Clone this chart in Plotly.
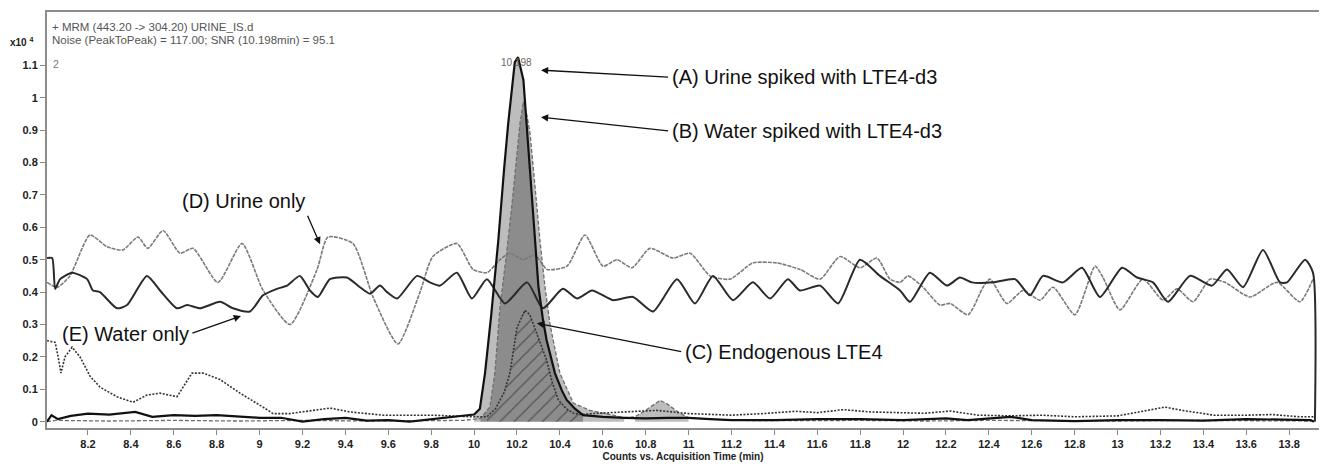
import plotly.graph_objects as go

# ---------------- data (counts x10^4 vs acquisition time, min) ----------------
a_time = [8.009, 8.03, 8.06, 8.12, 8.2, 8.3, 8.42, 8.5, 8.6, 8.7, 8.8, 8.9, 9.0, 9.1, 9.2, 9.3, 9.4, 9.5,
          9.6, 9.7, 9.8, 9.9, 9.97, 10.0, 10.027, 10.051, 10.08, 10.113, 10.14, 10.159, 10.19, 10.205,
          10.23, 10.245, 10.261, 10.28, 10.3, 10.32, 10.338, 10.377, 10.41, 10.432, 10.47, 10.508, 10.6,
          10.7, 10.8, 10.9, 11.0, 11.1, 11.2, 11.4, 11.6, 11.8, 12.0, 12.2, 12.3, 12.5, 12.6, 12.8, 13.0,
          13.2, 13.4, 13.6, 13.8, 13.9, 13.915]
a_val = [0.0, 0.02, 0.008, 0.018, 0.025, 0.022, 0.03, 0.015, 0.02, 0.018, 0.02, 0.015, 0.012, 0.012, 0.0,
         0.008, 0.012, 0.003, 0.005, 0.0, 0.008, 0.015, 0.02, 0.022, 0.04, 0.15, 0.33, 0.56, 0.78, 0.92,
         1.11, 1.125, 1.055, 0.92, 0.767, 0.58, 0.417, 0.32, 0.252, 0.15, 0.095, 0.067, 0.04, 0.02, 0.015,
         0.012, 0.01, 0.012, 0.012, 0.008, 0.005, 0.005, 0.008, 0.008, 0.005, 0.01, 0.005, 0.015, 0.005,
         0.002, 0.005, 0.005, 0.003, 0.008, 0.005, 0.005, 0.0]

b_time = [8.009, 8.05, 8.3, 8.6, 8.9, 9.2, 9.5, 9.8, 9.95, 10.03, 10.074, 10.097, 10.121, 10.148, 10.175,
          10.214, 10.23, 10.245, 10.261, 10.285, 10.307, 10.33, 10.354, 10.4, 10.463, 10.54, 10.6, 10.65,
          10.7, 10.75, 10.8, 10.867, 10.9, 10.95, 11.0, 11.2, 11.5, 11.8, 12.1, 12.4, 12.7, 13.0, 13.3,
          13.6, 13.915]
b_val = [0.0, 0.004, 0.002, 0.004, 0.002, 0.004, 0.002, 0.003, 0.004, 0.01, 0.046, 0.15, 0.355, 0.5, 0.66,
         0.92, 0.988, 0.95, 0.89, 0.72, 0.56, 0.42, 0.30, 0.15, 0.057, 0.035, 0.028, 0.02, 0.012, 0.015,
         0.035, 0.066, 0.055, 0.03, 0.012, 0.004, 0.003, 0.004, 0.002, 0.004, 0.003, 0.002, 0.004, 0.003,
         0.002]

c_time = [8.009, 8.047, 8.061, 8.074, 8.093, 8.126, 8.163, 8.21, 8.256, 8.335, 8.41, 8.475, 8.536, 8.615,
          8.685, 8.737, 8.816, 8.909, 9.016, 9.063, 9.142, 9.268, 9.328, 9.422, 9.576, 9.808, 9.95, 10.0,
          10.06, 10.1, 10.14, 10.167, 10.2, 10.237, 10.26, 10.292, 10.338, 10.365, 10.393, 10.43, 10.461,
          10.5, 10.55, 10.7, 10.85, 11.0, 11.2, 11.35, 11.5, 11.6, 11.72, 11.85, 12.0, 12.1, 12.22, 12.35,
          12.5, 12.65, 12.8, 13.0, 13.1, 13.22, 13.3, 13.45, 13.6, 13.72, 13.85, 13.915]
c_val = [0.25, 0.245, 0.2, 0.15, 0.2, 0.23, 0.2, 0.14, 0.107, 0.077, 0.06, 0.082, 0.088, 0.077, 0.15, 0.15,
         0.13, 0.088, 0.045, 0.025, 0.025, 0.036, 0.042, 0.03, 0.02, 0.02, 0.015, 0.015, 0.015, 0.04, 0.09,
         0.15, 0.29, 0.344, 0.33, 0.274, 0.19, 0.12, 0.067, 0.04, 0.027, 0.022, 0.025, 0.03, 0.035, 0.025,
         0.02, 0.025, 0.032, 0.028, 0.037, 0.03, 0.028, 0.026, 0.033, 0.02, 0.018, 0.02, 0.015, 0.018,
         0.03, 0.045, 0.035, 0.02, 0.02, 0.022, 0.015, 0.015]

d_time = [8.009, 8.056, 8.116, 8.209, 8.289, 8.363, 8.433, 8.479, 8.55, 8.629, 8.69, 8.806, 8.918, 9.016,
          9.142, 9.268, 9.319, 9.435, 9.529, 9.645, 9.748, 9.808, 9.92, 9.995, 10.06, 10.121, 10.167,
          10.228, 10.284, 10.34, 10.433, 10.517, 10.601, 10.666, 10.736, 10.82, 10.927, 11.007, 11.1,
          11.193, 11.3, 11.412, 11.519, 11.613, 11.706, 11.799, 11.878, 11.939, 11.986, 12.023, 12.093,
          12.172, 12.219, 12.303, 12.373, 12.405, 12.484, 12.559, 12.638, 12.699, 12.801, 12.895, 12.932,
          13.011, 13.118, 13.212, 13.277, 13.352, 13.431, 13.501, 13.617, 13.743, 13.85, 13.911]
d_val = [0.43, 0.415, 0.45, 0.576, 0.54, 0.53, 0.57, 0.535, 0.59, 0.52, 0.535, 0.43, 0.55, 0.406, 0.30,
         0.47, 0.57, 0.55, 0.385, 0.24, 0.40, 0.51, 0.55, 0.47, 0.46, 0.50, 0.52, 0.50, 0.515, 0.47, 0.48,
         0.576, 0.48, 0.50, 0.475, 0.535, 0.505, 0.52, 0.45, 0.44, 0.49, 0.49, 0.47, 0.44, 0.51, 0.475,
         0.505, 0.44, 0.43, 0.45, 0.415, 0.36, 0.365, 0.33, 0.415, 0.44, 0.365, 0.405, 0.375, 0.415, 0.33,
         0.48, 0.445, 0.345, 0.44, 0.375, 0.41, 0.37, 0.44, 0.43, 0.385, 0.43, 0.37, 0.44]

e_time = [8.009, 8.033, 8.047, 8.07, 8.126, 8.196, 8.223, 8.256, 8.335, 8.382, 8.475, 8.536, 8.615, 8.662,
          8.722, 8.816, 8.876, 8.955, 9.016, 9.081, 9.128, 9.188, 9.235, 9.272, 9.328, 9.407, 9.468, 9.515,
          9.561, 9.594, 9.641, 9.734, 9.794, 9.841, 9.92, 9.99, 10.06, 10.144, 10.247, 10.321, 10.414,
          10.48, 10.55, 10.648, 10.741, 10.834, 10.946, 11.03, 11.114, 11.207, 11.3, 11.38, 11.463, 11.519,
          11.613, 11.697, 11.799, 11.892, 11.986, 12.032, 12.125, 12.205, 12.265, 12.321, 12.419, 12.522,
          12.592, 12.652, 12.745, 12.834, 12.918, 13.021, 13.091, 13.165, 13.235, 13.338, 13.44, 13.51,
          13.585, 13.678, 13.757, 13.79, 13.874, 13.911, 13.92]
e_val = [0.505, 0.505, 0.41, 0.44, 0.46, 0.44, 0.405, 0.40, 0.35, 0.36, 0.45, 0.405, 0.35, 0.36, 0.35, 0.37,
         0.35, 0.34, 0.39, 0.41, 0.42, 0.45, 0.405, 0.385, 0.44, 0.445, 0.415, 0.395, 0.42, 0.40, 0.38, 0.45,
         0.43, 0.42, 0.46, 0.38, 0.44, 0.365, 0.43, 0.35, 0.41, 0.38, 0.405, 0.375, 0.385, 0.34, 0.44, 0.365,
         0.45, 0.375, 0.43, 0.38, 0.44, 0.405, 0.42, 0.365, 0.50, 0.45, 0.405, 0.37, 0.46, 0.42, 0.445, 0.43,
         0.43, 0.44, 0.39, 0.45, 0.43, 0.475, 0.385, 0.475, 0.445, 0.43, 0.37, 0.45, 0.42, 0.47, 0.415,
         0.53, 0.43, 0.43, 0.50, 0.46, 0.0]

x_ticks = [8.2, 8.4, 8.6, 8.8, 9.0, 9.2, 9.4, 9.6, 9.8, 10.0, 10.2, 10.4, 10.6, 10.8, 11.0, 11.2, 11.4, 11.6,
           11.8, 12.0, 12.2, 12.4, 12.6, 12.8, 13.0, 13.2, 13.4, 13.6, 13.8]
x_tick_labels = ["8.2", "8.4", "8.6", "8.8", "9", "9.2", "9.4", "9.6", "9.8", "10", "10.2", "10.4", "10.6",
                 "10.8", "11", "11.2", "11.4", "11.6", "11.8", "12", "12.2", "12.4", "12.6", "12.8", "13",
                 "13.2", "13.4", "13.6", "13.8"]
y_ticks = [0, 0.1, 0.2, 0.3, 0.4, 0.5, 0.6, 0.7, 0.8, 0.9, 1.0, 1.1]
y_tick_labels = ["0", "0.1", "0.2", "0.3", "0.4", "0.5", "0.6", "0.7", "0.8", "0.9", "1", "1.1"]

header_lines = ["+ MRM (443.20 -> 304.20) URINE_IS.d",
                "Noise (PeakToPeak) = 117.00; SNR (10.198min) = 95.1"]
peak_label = "10.198"
x_title = "Counts vs. Acquisition Time (min)"

# integration windows (min)
a_window = (10.0, 10.55)
b_windows = [(10.0, 10.7), (10.75, 11.0)]
c_window = (10.03, 10.5)


def segment(ts, vs, lo, hi):
    xs = [t for t in ts if lo <= t <= hi]
    ys = [v for t, v in zip(ts, vs) if lo <= t <= hi]
    return xs, ys


fig = go.Figure()
FONT = "Liberation Sans, Arial, sans-serif"
shade = "rgba(0,0,0,0.26)"

# peak fills
xs, ys = segment(a_time, a_val, *a_window)
fig.add_trace(go.Scatter(x=xs, y=ys, mode="lines", line=dict(width=0), fill="tozeroy",
                         fillcolor=shade, hoverinfo="skip", showlegend=False))
for lo, hi in b_windows:
    xs, ys = segment(b_time, b_val, lo, hi)
    fig.add_trace(go.Scatter(x=xs, y=ys, mode="lines", line=dict(width=0), fill="tozeroy",
                             fillcolor=shade, hoverinfo="skip", showlegend=False))
xs, ys = segment(c_time, c_val, *c_window)
fig.add_trace(go.Scatter(x=xs, y=ys, mode="lines", line=dict(width=0), fill="tozeroy",
                         fillcolor="rgba(0,0,0,0)",
                         fillpattern=dict(shape="/", fgcolor="#1a1a1a", bgcolor="rgba(0,0,0,0)",
                                          size=10, solidity=0.12, fillmode="overlay"),
                         hoverinfo="skip", showlegend=False))

# lines
fig.add_trace(go.Scatter(x=b_time, y=b_val, mode="lines", name="(B)",
                         line=dict(color="#6e6e6e", width=1.3, dash="4px,2px")))
fig.add_trace(go.Scatter(x=c_time, y=c_val, mode="lines", name="(C)",
                         line=dict(color="#333333", width=1.6, dash="2px,1.5px")))
fig.add_trace(go.Scatter(x=d_time, y=d_val, mode="lines", name="(D)", line_shape="spline",
                         line=dict(color="#7a7a7a", width=1.6, dash="4px,1px", smoothing=0.6)))
fig.add_trace(go.Scatter(x=e_time, y=e_val, mode="lines", name="(E)", line_shape="spline",
                         line=dict(color="#2a2a2a", width=2, smoothing=0.6)))
fig.add_trace(go.Scatter(x=a_time, y=a_val, mode="lines", name="(A)",
                         line=dict(color="#111111", width=2.2)))

# labels with arrows: (tip_x, tip_y, tail_x, tail_y, text, xanchor, yanchor)
# the text box is anchored at the arrow tail
labels = [
    (10.312, 1.085, 10.914, 1.063, "(A) Urine spiked with LTE4-d3", "left", "middle"),
    (10.312, 0.940, 10.914, 0.897, "(B) Water spiked with LTE4-d3", "left", "middle"),
    (10.293, 0.304, 10.975, 0.215, "(C) Endogenous LTE4", "left", "middle"),
    (9.282, 0.548, 9.22, 0.641, "(D) Urine only", "right", "bottom"),
    (8.913, 0.326, 8.678, 0.271, "(E) Water only", "right", "middle"),
]
annotations = []
for tx, ty, ax, ay, text, xa, ya in labels:
    annotations.append(dict(x=tx, y=ty, ax=ax, ay=ay, xref="x", yref="y", axref="x", ayref="y",
                            text=text, showarrow=True, arrowhead=2, arrowsize=1.1, arrowwidth=1.3,
                            arrowcolor="#111", standoff=0, startstandoff=2,
                            xanchor=xa, yanchor=ya,
                            font=dict(family=FONT, size=20, color="#111")))

annotations += [
    dict(x=0.0025, y=0.963, xref="paper", yref="paper", text=header_lines[0], showarrow=False,
         xanchor="left", yanchor="middle", font=dict(family=FONT, size=11.5, color="#555")),
    dict(x=0.0025, y=0.933, xref="paper", yref="paper", text=header_lines[1], showarrow=False,
         xanchor="left", yanchor="middle", font=dict(family=FONT, size=11.5, color="#555")),
    dict(x=0.0035, y=0.875, xref="paper", yref="paper", text="2", showarrow=False,
         xanchor="left", yanchor="middle", font=dict(family=FONT, size=10.5, color="#777")),
    dict(x=10.2, y=1.108, xref="x", yref="y", text=peak_label, showarrow=False,
         xanchor="center", yanchor="middle", font=dict(family=FONT, size=10, color="#666")),
    dict(x=-0.031, y=0.928, xref="paper", yref="paper", text="x10 <sup>4</sup>", showarrow=False,
         xanchor="left", yanchor="middle", font=dict(family=FONT, size=10, color="#222", weight="bold")),
]

axis_common = dict(showgrid=False, zeroline=False, showline=True, linecolor="#8c8c8c", linewidth=2,
                   ticks="outside", ticklen=5, tickcolor="#888", tickwidth=1,
                   tickfont=dict(family=FONT, size=11, color="#222", weight="bold"))

fig.update_layout(
    width=1320, height=464,
    margin=dict(l=47, r=1, t=12, b=36),
    paper_bgcolor="white", plot_bgcolor="white",
    showlegend=False,
    annotations=annotations,
    xaxis=dict(range=[8.009, 13.939], tickvals=x_ticks, ticktext=x_tick_labels, mirror=True,
               title=dict(text=x_title, font=dict(family=FONT, size=10, color="#222", weight="bold"),
                          standoff=4),
               **axis_common),
    yaxis=dict(range=[-0.0195, 1.2645], tickvals=y_ticks, ticktext=y_tick_labels, mirror=False,
               **axis_common),
)

fig.write_html("out.html", config={"displayModeBar": False},
               post_script="document.body.style.margin='0';")
